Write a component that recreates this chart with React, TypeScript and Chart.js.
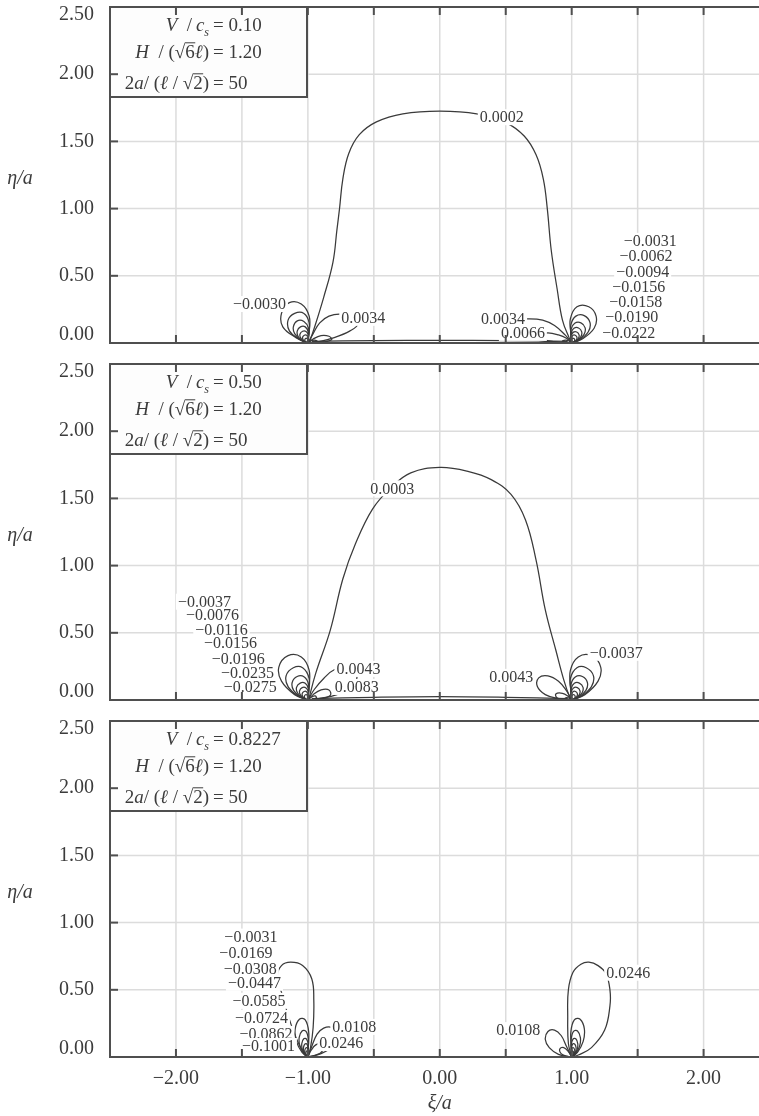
import React, { useEffect, useRef } from 'react';
import { Chart, registerables } from 'chart.js';

Chart.register(...registerables);

// ---------- axes ----------
const X_MIN = -2.5;
const X_MAX = 2.42;
const Y_MIN = 0;
const Y_MAX = 2.5;
const X_GRID = [-2, -1.5, -1, -0.5, 0, 0.5, 1, 1.5, 2];
const X_TICK_LABELS = [-2, -1, 0, 1, 2];
const Y_GRID = [0.5, 1, 1.5, 2];
const Y_TICK_LABELS = [0, 0.5, 1, 1.5, 2, 2.5];

// legend values per panel
const V_CS = ['0.10', '0.50', '0.8227'];
const H_VAL = ['1.20', '1.20', '1.20'];
const A_VAL = ['50', '50', '50'];

type Pt = [number, number];

// ---------- panel 1 (V/cs = 0.10) ----------
const P1_DOME: Pt[] = [[-0.99, 0], [-0.955, 0.1], [-0.88, 0.34], [-0.81, 0.6], [-0.78, 0.84], [-0.76, 1.0], [-0.735, 1.22], [-0.69, 1.41], [-0.61, 1.55], [-0.48, 1.645], [-0.28, 1.705], [0, 1.725], [0.28, 1.705], [0.5, 1.64], [0.64, 1.54], [0.73, 1.4], [0.785, 1.22], [0.815, 1.0], [0.845, 0.69], [0.89, 0.4], [0.93, 0.17], [0.98, 0.04], [1.0, 0]];
const P1_BASE: Pt[] = [[-0.97, 0.012], [-0.5, 0.018], [0, 0.02], [0.5, 0.018], [0.97, 0.012]];
const P1_L_NEG: Pt[][] = [
  [[-1, 0], [-1.09, 0.04], [-1.19, 0.12], [-1.2, 0.22], [-1.14, 0.3], [-1.05, 0.29], [-0.99, 0.2], [-0.99, 0.08], [-1, 0]],
  [[-1, 0], [-1.07, 0.03], [-1.14, 0.09], [-1.15, 0.17], [-1.1, 0.22], [-1.03, 0.22], [-0.99, 0.15], [-0.995, 0.06], [-1, 0]],
  [[-1, 0], [-1.05, 0.02], [-1.1, 0.07], [-1.11, 0.12], [-1.08, 0.165], [-1.03, 0.16], [-0.995, 0.11], [-0.997, 0.04], [-1, 0]],
  [[-1, 0], [-1.04, 0.015], [-1.075, 0.05], [-1.08, 0.09], [-1.056, 0.12], [-1.02, 0.12], [-0.996, 0.08], [-0.998, 0.03], [-1, 0]],
  [[-1, 0], [-1.027, 0.011], [-1.054, 0.036], [-1.06, 0.065], [-1.04, 0.087], [-1.014, 0.086], [-0.997, 0.06], [-0.998, 0.023], [-1, 0]],
  [[-1, 0], [-1.018, 0.007], [-1.036, 0.024], [-1.04, 0.043], [-1.027, 0.058], [-1.009, 0.057], [-0.998, 0.039], [-0.999, 0.015], [-1, 0]],
  [[-1, 0], [-1.01, 0.004], [-1.021, 0.014], [-1.023, 0.025], [-1.016, 0.034], [-1.005, 0.033], [-0.999, 0.023], [-0.9993, 0.009], [-1, 0]],
];
const P1_L_POS: Pt[][] = [
  [[-1, 0], [-0.96, 0.07], [-0.91, 0.15], [-0.84, 0.2], [-0.75, 0.215], [-0.65, 0.19], [-0.62, 0.14], [-0.68, 0.09], [-0.8, 0.04], [-0.92, 0.01], [-1, 0]],
  [[-1, 0], [-0.96, 0.03], [-0.9, 0.055], [-0.84, 0.05], [-0.82, 0.025], [-0.88, 0.008], [-1, 0]],
  [[-1, 0], [-0.98, 0.015], [-0.95, 0.022], [-0.93, 0.012], [-0.97, 0.003], [-1, 0]],
];
const P1_R_NEG: Pt[][] = [
  [[1, 0], [1.08, 0.03], [1.17, 0.11], [1.185, 0.2], [1.13, 0.27], [1.04, 0.27], [0.99, 0.18], [0.994, 0.07], [1, 0]],
  [[1, 0], [1.063, 0.025], [1.126, 0.084], [1.139, 0.151], [1.095, 0.204], [1.032, 0.2], [0.994, 0.137], [0.996, 0.053], [1, 0]],
  [[1, 0], [1.047, 0.019], [1.093, 0.062], [1.102, 0.112], [1.07, 0.15], [1.023, 0.147], [0.995, 0.101], [0.997, 0.039], [1, 0]],
  [[1, 0], [1.035, 0.014], [1.069, 0.046], [1.076, 0.083], [1.052, 0.112], [1.017, 0.109], [0.997, 0.075], [0.998, 0.029], [1, 0]],
  [[1, 0], [1.026, 0.01], [1.051, 0.034], [1.056, 0.061], [1.038, 0.082], [1.013, 0.081], [0.997, 0.055], [0.998, 0.021], [1, 0]],
  [[1, 0], [1.018, 0.007], [1.036, 0.024], [1.04, 0.043], [1.027, 0.058], [1.009, 0.057], [0.998, 0.039], [0.999, 0.015], [1, 0]],
  [[1, 0], [1.01, 0.004], [1.021, 0.014], [1.023, 0.025], [1.016, 0.034], [1.005, 0.033], [0.999, 0.023], [0.9993, 0.009], [1, 0]],
];
const P1_R_POS: Pt[][] = [
  [[1, 0], [0.95, 0.06], [0.87, 0.13], [0.78, 0.17], [0.68, 0.18], [0.6, 0.17], [0.55, 0.12], [0.6, 0.06], [0.75, 0.02], [0.9, 0.005], [1, 0]],
  [[1, 0], [0.96, 0.035], [0.9, 0.06], [0.82, 0.075], [0.76, 0.06], [0.78, 0.03], [0.88, 0.008], [1, 0]],
  [[1, 0], [0.98, 0.015], [0.95, 0.022], [0.93, 0.012], [0.97, 0.003], [1, 0]],
];
const P1_LABELS: [string, number, number][] = [
  ['\u22120.0030', -1.367, 0.29],
  ['0.0034', -0.58, 0.187],
  ['0.0002', 0.47, 1.68],
  ['0.0034', 0.48, 0.18],
  ['0.0066', 0.63, 0.075],
  ['\u22120.0031', 1.595, 0.76],
  ['\u22120.0062', 1.564, 0.65],
  ['\u22120.0094', 1.538, 0.53],
  ['\u22120.0156', 1.508, 0.418],
  ['\u22120.0158', 1.485, 0.306],
  ['\u22120.0190', 1.455, 0.194],
  ['\u22120.0222', 1.432, 0.075],
];

// ---------- panel 2 (V/cs = 0.50) ----------
const P2_DOME: Pt[] = [[-0.995, 0], [-0.94, 0.2], [-0.83, 0.52], [-0.735, 0.9], [-0.64, 1.16], [-0.51, 1.42], [-0.37, 1.58], [-0.22, 1.69], [0, 1.73], [0.22, 1.7], [0.39, 1.64], [0.54, 1.53], [0.65, 1.34], [0.73, 1.04], [0.8, 0.67], [0.88, 0.37], [0.94, 0.15], [0.985, 0.02], [1, 0]];
const P2_BASE: Pt[] = [[-0.97, 0.01], [-0.5, 0.02], [0, 0.025], [0.5, 0.02], [0.97, 0.01]];
const P2_L_NEG: Pt[][] = [
  [[-1, 0], [-1.1, 0.04], [-1.2, 0.14], [-1.22, 0.245], [-1.15, 0.33], [-1.05, 0.32], [-0.99, 0.22], [-0.993, 0.085], [-1, 0]],
  [[-1, 0], [-1.075, 0.03], [-1.15, 0.1], [-1.165, 0.18], [-1.11, 0.24], [-1.04, 0.24], [-0.99, 0.16], [-0.995, 0.06], [-1, 0]],
  [[-1, 0], [-1.054, 0.022], [-1.108, 0.072], [-1.119, 0.13], [-1.081, 0.175], [-1.027, 0.171], [-0.995, 0.117], [-0.996, 0.045], [-1, 0]],
  [[-1, 0], [-1.039, 0.016], [-1.078, 0.052], [-1.086, 0.094], [-1.058, 0.126], [-1.02, 0.124], [-0.996, 0.085], [-0.997, 0.033], [-1, 0]],
  [[-1, 0], [-1.029, 0.011], [-1.057, 0.038], [-1.063, 0.068], [-1.043, 0.092], [-1.014, 0.09], [-0.997, 0.062], [-0.998, 0.024], [-1, 0]],
  [[-1, 0], [-1.02, 0.008], [-1.039, 0.026], [-1.043, 0.047], [-1.029, 0.063], [-1.01, 0.062], [-0.998, 0.042], [-0.999, 0.016], [-1, 0]],
  [[-1, 0], [-1.012, 0.005], [-1.024, 0.016], [-1.026, 0.029], [-1.018, 0.039], [-1.006, 0.038], [-0.999, 0.026], [-0.999, 0.01], [-1, 0]],
];
const P2_L_POS: Pt[][] = [
  [[-1, 0], [-0.95, 0.08], [-0.88, 0.16], [-0.8, 0.225], [-0.7, 0.24], [-0.63, 0.19], [-0.66, 0.11], [-0.78, 0.04], [-0.92, 0.01], [-1, 0]],
  [[-1, 0], [-0.96, 0.04], [-0.9, 0.075], [-0.84, 0.075], [-0.83, 0.035], [-0.9, 0.01], [-1, 0]],
  [[-1, 0], [-0.975, 0.02], [-0.945, 0.03], [-0.935, 0.015], [-0.97, 0.004], [-1, 0]],
];
const P2_R_NEG: Pt[][] = [
  [[1, 0], [1.1, 0.04], [1.2, 0.14], [1.22, 0.245], [1.15, 0.33], [1.05, 0.32], [0.99, 0.22], [0.993, 0.085], [1, 0]],
  [[1, 0], [1.075, 0.03], [1.15, 0.1], [1.165, 0.18], [1.11, 0.24], [1.04, 0.24], [0.99, 0.16], [0.995, 0.06], [1, 0]],
  [[1, 0], [1.054, 0.022], [1.108, 0.072], [1.119, 0.13], [1.081, 0.175], [1.027, 0.171], [0.995, 0.117], [0.996, 0.045], [1, 0]],
  [[1, 0], [1.039, 0.016], [1.078, 0.052], [1.086, 0.094], [1.058, 0.126], [1.02, 0.124], [0.996, 0.085], [0.997, 0.033], [1, 0]],
  [[1, 0], [1.029, 0.011], [1.057, 0.038], [1.063, 0.068], [1.043, 0.092], [1.014, 0.09], [0.997, 0.062], [0.998, 0.024], [1, 0]],
  [[1, 0], [1.02, 0.008], [1.039, 0.026], [1.043, 0.047], [1.029, 0.063], [1.01, 0.062], [0.998, 0.042], [0.999, 0.016], [1, 0]],
  [[1, 0], [1.012, 0.005], [1.024, 0.016], [1.026, 0.029], [1.018, 0.039], [1.006, 0.038], [0.999, 0.026], [0.999, 0.01], [1, 0]],
];
const P2_R_POS: Pt[][] = [
  [[1, 0], [0.96, 0.07], [0.9, 0.14], [0.82, 0.18], [0.75, 0.165], [0.74, 0.1], [0.8, 0.04], [0.9, 0.01], [1, 0]],
  [[1, 0], [0.97, 0.03], [0.93, 0.05], [0.88, 0.045], [0.89, 0.015], [0.95, 0.004], [1, 0]],
  [[1, 0], [0.985, 0.012], [0.96, 0.018], [0.95, 0.01], [0.98, 0.002], [1, 0]],
];
const P2_LABELS: [string, number, number][] = [
  ['0.0003', -0.36, 1.575],
  ['\u22120.0037', -1.784, 0.731],
  ['\u22120.0076', -1.723, 0.634],
  ['\u22120.0116', -1.655, 0.522],
  ['\u22120.0156', -1.587, 0.425],
  ['\u22120.0196', -1.527, 0.306],
  ['\u22120.0235', -1.458, 0.2],
  ['\u22120.0275', -1.436, 0.097],
  ['0.0043', -0.617, 0.231],
  ['0.0083', -0.629, 0.097],
  ['0.0043', 0.542, 0.172],
  ['\u22120.0037', 1.337, 0.351],
];

// ---------- panel 3 (V/cs = 0.8227) ----------
const P3_L_NEG: Pt[][] = [
  [[-1, 0], [-1.06, 0.08], [-1.13, 0.25], [-1.19, 0.45], [-1.23, 0.6], [-1.2, 0.68], [-1.13, 0.705], [-1.04, 0.68], [-0.97, 0.58], [-0.955, 0.42], [-0.96, 0.22], [-0.98, 0.07], [-1, 0]],
  [[-1, 0], [-1.044, 0.035], [-1.087, 0.116], [-1.096, 0.209], [-1.064, 0.281], [-1.02, 0.276], [-0.994, 0.189], [-0.997, 0.073], [-1, 0]],
  [[-1, 0], [-1.03, 0.024], [-1.06, 0.08], [-1.066, 0.144], [-1.044, 0.194], [-1.014, 0.19], [-0.996, 0.13], [-0.998, 0.05], [-1, 0]],
  [[-1, 0], [-1.021, 0.017], [-1.042, 0.056], [-1.046, 0.1], [-1.031, 0.136], [-1.01, 0.133], [-0.997, 0.091], [-0.999, 0.035], [-1, 0]],
  [[-1, 0], [-1.015, 0.012], [-1.03, 0.04], [-1.033, 0.072], [-1.022, 0.097], [-1.007, 0.095], [-0.998, 0.065], [-0.999, 0.025], [-1, 0]],
  [[-1, 0], [-1.01, 0.008], [-1.021, 0.028], [-1.023, 0.05], [-1.015, 0.068], [-1.005, 0.067], [-0.999, 0.046], [-0.9993, 0.018], [-1, 0]],
  [[-1, 0], [-1.007, 0.005], [-1.014, 0.018], [-1.015, 0.032], [-1.01, 0.044], [-1.003, 0.043], [-0.999, 0.029], [-0.9995, 0.011], [-1, 0]],
];
const P3_L_POS: Pt[][] = [
  [[-1, 0], [-0.97, 0.08], [-0.93, 0.17], [-0.88, 0.215], [-0.82, 0.22], [-0.78, 0.17], [-0.8, 0.09], [-0.9, 0.025], [-1, 0]],
  [[-1, 0], [-0.975, 0.05], [-0.94, 0.09], [-0.9, 0.095], [-0.89, 0.045], [-0.95, 0.01], [-1, 0]],
];
const P3_R_OUT: Pt[][] = [
  [[1, 0], [0.975, 0.1], [0.97, 0.3], [0.975, 0.5], [1.01, 0.63], [1.07, 0.69], [1.13, 0.705], [1.2, 0.68], [1.26, 0.62], [1.29, 0.5], [1.29, 0.38], [1.25, 0.2], [1.15, 0.07], [1.05, 0.015], [1, 0]],
  [[1, 0], [1.044, 0.035], [1.087, 0.116], [1.096, 0.209], [1.064, 0.281], [1.02, 0.276], [0.994, 0.189], [0.997, 0.073], [1, 0]],
  [[1, 0], [1.03, 0.024], [1.06, 0.08], [1.066, 0.144], [1.044, 0.194], [1.014, 0.19], [0.996, 0.13], [0.998, 0.05], [1, 0]],
  [[1, 0], [1.021, 0.017], [1.042, 0.056], [1.046, 0.1], [1.031, 0.136], [1.01, 0.133], [0.997, 0.091], [0.999, 0.035], [1, 0]],
  [[1, 0], [1.015, 0.012], [1.03, 0.04], [1.033, 0.072], [1.022, 0.097], [1.007, 0.095], [0.998, 0.065], [0.999, 0.025], [1, 0]],
  [[1, 0], [1.01, 0.008], [1.021, 0.028], [1.023, 0.05], [1.015, 0.068], [1.005, 0.067], [0.999, 0.046], [0.9993, 0.018], [1, 0]],
  [[1, 0], [1.007, 0.005], [1.014, 0.018], [1.015, 0.032], [1.01, 0.044], [1.003, 0.043], [0.999, 0.029], [0.9995, 0.011], [1, 0]],
];
const P3_R_IN: Pt[][] = [
  [[1, 0], [0.96, 0.08], [0.92, 0.16], [0.87, 0.2], [0.82, 0.19], [0.8, 0.13], [0.83, 0.07], [0.9, 0.02], [1, 0]],
  [[1, 0], [0.975, 0.04], [0.94, 0.07], [0.91, 0.06], [0.92, 0.025], [0.96, 0.006], [1, 0]],
];
const P3_LABELS: [string, number, number][] = [
  ['\u22120.0031', -1.432, 0.896],
  ['\u22120.0169', -1.47, 0.776],
  ['\u22120.0308', -1.436, 0.657],
  ['\u22120.0447', -1.405, 0.552],
  ['\u22120.0585', -1.371, 0.418],
  ['\u22120.0724', -1.352, 0.291],
  ['\u22120.0862', -1.318, 0.172],
  ['\u22120.1001', -1.299, 0.082],
  ['0.0108', -0.648, 0.224],
  ['0.0246', -0.746, 0.104],
  ['0.0108', 0.595, 0.2],
  ['0.0246', 1.428, 0.627],
];

// ---------- layout / style ----------
const PANEL_TOPS = [7, 364, 721];
const PANEL_H = 336;
const CANVAS_W = 759;
const PLOT_LEFT = 110;
const FONT = '"Liberation Serif", "Times New Roman", Times, serif';
const INK = '#3c3c3c';
const LINE_C = '#3a3a3a';
const FRAME_C = '#4f4f4f';
const GRID_C = '#dcdcdc';

type Run = { t: string; it?: boolean; sub?: boolean; over?: boolean };

function runFont(r: Run, size: number) {
  const s = r.sub ? Math.round(size * 0.62) : size;
  return `${r.it ? 'italic ' : ''}${s}px ${FONT}`;
}

function drawRuns(ctx: CanvasRenderingContext2D, runs: Run[], xRight: number, baseline: number, size: number) {
  let total = 0;
  const widths = runs.map((r) => {
    ctx.font = runFont(r, size);
    const w = ctx.measureText(r.t).width;
    total += w;
    return w;
  });
  let x = xRight - total;
  ctx.textAlign = 'left';
  ctx.textBaseline = 'alphabetic';
  runs.forEach((r, i) => {
    ctx.font = runFont(r, size);
    const y = r.sub ? baseline + size * 0.28 : baseline;
    ctx.fillText(r.t, x, y);
    if (r.over) {
      ctx.beginPath();
      ctx.lineWidth = 1;
      ctx.moveTo(x - 0.5, baseline - size * 0.8);
      ctx.lineTo(x + widths[i] + 0.5, baseline - size * 0.8);
      ctx.stroke();
    }
    x += widths[i];
  });
}

type PanelCfg = {
  idx: number;
  curves: Pt[][];
  labels: [string, number, number][];
  bottomAxis: boolean;
};

const PANELS: PanelCfg[] = [
  { idx: 0, curves: [P1_DOME, P1_BASE, ...P1_L_NEG, ...P1_L_POS, ...P1_R_NEG, ...P1_R_POS], labels: P1_LABELS, bottomAxis: false },
  { idx: 1, curves: [P2_DOME, P2_BASE, ...P2_L_NEG, ...P2_L_POS, ...P2_R_NEG, ...P2_R_POS], labels: P2_LABELS, bottomAxis: false },
  { idx: 2, curves: [...P3_L_NEG, ...P3_L_POS, ...P3_R_OUT, ...P3_R_IN], labels: P3_LABELS, bottomAxis: true },
];

const EN = '\u2002';
const THIN = '\u2009';

function makePlugin(p: PanelCfg) {
  return {
    id: 'panelDecor' + p.idx,
    beforeDatasetsDraw(chart: any) {
      const { ctx, chartArea: a, scales } = chart;
      const xs = scales.x;
      const ys = scales.y;
      ctx.save();
      ctx.strokeStyle = GRID_C;
      ctx.lineWidth = 1.5;
      X_GRID.forEach((v) => {
        const px = xs.getPixelForValue(v);
        ctx.beginPath();
        ctx.moveTo(px, a.top);
        ctx.lineTo(px, a.bottom);
        ctx.stroke();
      });
      Y_GRID.forEach((v) => {
        const py = ys.getPixelForValue(v);
        ctx.beginPath();
        ctx.moveTo(a.left, py);
        ctx.lineTo(a.right, py);
        ctx.stroke();
      });
      ctx.restore();
    },
    afterDatasetsDraw(chart: any) {
      const { ctx, chartArea: a, scales } = chart;
      const xs = scales.x;
      const ys = scales.y;
      ctx.save();

      // contour labels with white background
      ctx.font = `16px ${FONT}`;
      ctx.textAlign = 'center';
      ctx.textBaseline = 'middle';
      p.labels.forEach(([t, x, y]) => {
        const px = xs.getPixelForValue(x);
        const py = ys.getPixelForValue(y);
        const w = ctx.measureText(t).width;
        ctx.fillStyle = '#ffffff';
        ctx.fillRect(px - w / 2 - 2, py - 8, w + 4, 16);
        ctx.fillStyle = INK;
        ctx.fillText(t, px, py + 1);
      });

      // legend box
      const bx = a.left;
      const by = a.top;
      const bw = 197;
      const bh = 90;
      ctx.fillStyle = '#fdfdfd';
      ctx.fillRect(bx, by, bw, bh);
      ctx.strokeStyle = FRAME_C;
      ctx.lineWidth = 2;
      ctx.strokeRect(bx, by, bw, bh);
      ctx.fillStyle = INK;
      ctx.strokeStyle = INK;
      const fs = 19;
      const lhsRight = 209;
      const eqX = 213;
      const rows: { runs: Run[]; val: string; base: number }[] = [
        { runs: [{ t: 'V', it: true }, { t: EN + '/' + THIN }, { t: 'c', it: true }, { t: 's', it: true, sub: true }], val: V_CS[p.idx], base: by + 24 },
        { runs: [{ t: 'H', it: true }, { t: EN + '/ (' }, { t: '\u221A' }, { t: '6', over: true }, { t: '\u2113', it: true }, { t: ')' }], val: H_VAL[p.idx], base: by + 51 },
        { runs: [{ t: '2' }, { t: 'a', it: true }, { t: '/ (' }, { t: '\u2113', it: true }, { t: ' / ' }, { t: '\u221A' }, { t: '2', over: true }, { t: ')' }], val: A_VAL[p.idx], base: by + 82 },
      ];
      rows.forEach((r) => {
        drawRuns(ctx, r.runs, lhsRight, r.base, fs);
        ctx.font = `${fs}px ${FONT}`;
        ctx.textAlign = 'left';
        ctx.fillText('= ' + r.val, eqX, r.base);
      });

      // frame (top, left, bottom) and inward ticks
      ctx.strokeStyle = FRAME_C;
      ctx.lineWidth = 2;
      ctx.beginPath();
      ctx.moveTo(a.right + 2, a.top);
      ctx.lineTo(a.left, a.top);
      ctx.lineTo(a.left, a.bottom);
      ctx.lineTo(a.right + 2, a.bottom);
      ctx.stroke();
      const tl = 8;
      X_GRID.forEach((v) => {
        const px = xs.getPixelForValue(v);
        ctx.beginPath();
        ctx.moveTo(px, a.top);
        ctx.lineTo(px, a.top + tl);
        ctx.moveTo(px, a.bottom);
        ctx.lineTo(px, a.bottom - tl);
        ctx.stroke();
      });
      Y_GRID.forEach((v) => {
        const py = ys.getPixelForValue(v);
        ctx.beginPath();
        ctx.moveTo(a.left, py);
        ctx.lineTo(a.left + tl, py);
        ctx.stroke();
      });

      // y tick labels
      ctx.fillStyle = INK;
      ctx.font = `20px ${FONT}`;
      ctx.textAlign = 'right';
      ctx.textBaseline = 'middle';
      Y_TICK_LABELS.forEach((v) => {
        let py = ys.getPixelForValue(v);
        py = Math.max(a.top + 8, Math.min(a.bottom - 8, py));
        ctx.fillText(v.toFixed(2), 94, py);
      });

      // y axis title
      ctx.font = `italic 20px ${FONT}`;
      ctx.textAlign = 'center';
      ctx.fillText('\u03B7/a', 20, a.top + 172);

      if (p.bottomAxis) {
        ctx.font = `20px ${FONT}`;
        ctx.textAlign = 'center';
        X_TICK_LABELS.forEach((v) => {
          const px = xs.getPixelForValue(v);
          const s = (v < 0 ? '\u2212' : '') + Math.abs(v).toFixed(2);
          ctx.fillText(s, px, a.bottom + 22);
        });
        ctx.font = `italic 20px ${FONT}`;
        ctx.fillText('\u03BE/a', xs.getPixelForValue(0), a.bottom + 47);
      }
      ctx.restore();
    },
  };
}

function Panel({ cfg }: { cfg: PanelCfg }) {
  const ref = useRef<HTMLCanvasElement>(null);
  const top = PANEL_TOPS[cfg.idx] - 7;
  const height = cfg.bottomAxis ? 1116 - top : PANEL_H + 7 + 14;
  useEffect(() => {
    if (!ref.current) return;
    const chart = new Chart(ref.current, {
      type: 'scatter',
      data: {
        datasets: cfg.curves.map((c) => ({
          data: c.map(([x, y]) => ({ x, y })),
          showLine: true,
          borderColor: LINE_C,
          borderWidth: 1.25,
          pointRadius: 0,
          tension: 0.4,
          fill: false,
        })),
      },
      options: {
        animation: false,
        responsive: false,
        events: [],
        layout: { padding: { left: PLOT_LEFT, right: 0, top: 7, bottom: height - 7 - PANEL_H } },
        scales: {
          x: { type: 'linear', display: false, min: X_MIN, max: X_MAX },
          y: { type: 'linear', display: false, min: Y_MIN, max: Y_MAX },
        },
        plugins: { legend: { display: false }, tooltip: { enabled: false }, title: { display: false } },
      },
      plugins: [makePlugin(cfg)],
    } as any);
    return () => chart.destroy();
  }, []);
  return (
    <canvas
      ref={ref}
      width={CANVAS_W}
      height={height}
      style={{ position: 'absolute', left: 0, top, width: CANVAS_W, height }}
    />
  );
}

export default function App() {
  return (
    <div style={{ position: 'absolute', left: 0, top: 0, width: CANVAS_W, height: 1116, background: '#ffffff', overflow: 'hidden' }}>
      {PANELS.map((p) => (
        <Panel key={p.idx} cfg={p} />
      ))}
    </div>
  );
}
